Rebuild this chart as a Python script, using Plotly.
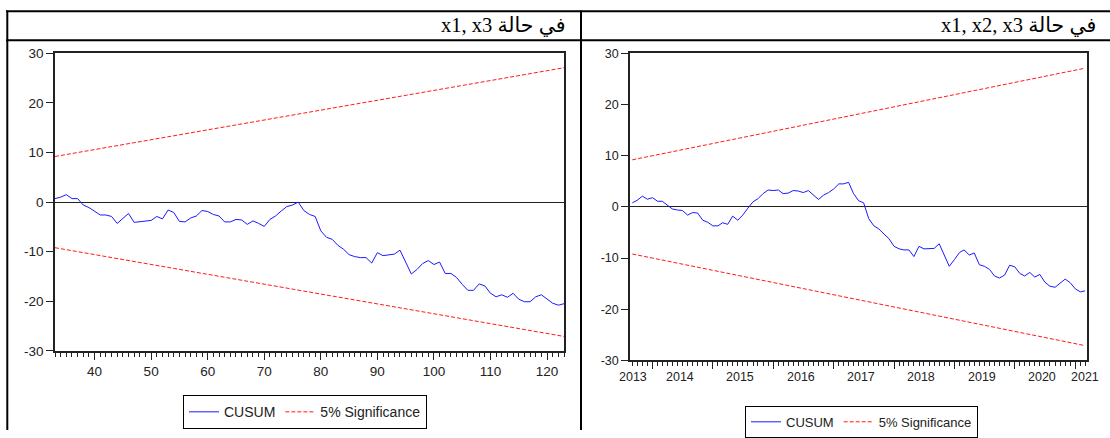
import plotly.graph_objects as go
import pandas as pd

W, H = 1110, 438

# ---------------- data ----------------
left_obs = list(range(33, 124))
left_cusum = [
    0.7, 1.0, 1.5, 0.7, 0.7, -0.6, -1.1, -1.9, -2.6, -2.6,
    -2.9, -4.3, -3.3, -2.3, -4.1, -4.0, -3.9, -3.7, -2.9, -3.4,
    -1.6, -2.1, -3.9, -4.0, -3.2, -2.8, -1.7, -1.9, -2.5, -2.8,
    -4.0, -4.0, -3.5, -3.6, -4.5, -3.8, -4.3, -4.9, -3.5, -2.8,
    -1.8, -0.9, -0.6, 0.0, -1.7, -2.5, -2.9, -5.8, -7.1, -7.5,
    -8.7, -9.5, -10.6, -11.0, -11.2, -11.2, -12.3, -10.2, -10.8, -10.6,
    -10.5, -9.7, -12.1, -14.5, -13.6, -12.4, -11.8, -12.6, -12.1, -14.4,
    -14.4, -15.2, -16.6, -17.8, -17.8, -16.5, -16.9, -18.4, -19.1, -18.7,
    -19.2, -18.4, -19.6, -20.1, -20.1, -19.1, -18.7, -19.5, -20.4, -20.8,
    -20.5,
]
left_bound_x = [33, 123]
left_upper = [9.2, 27.1]
left_lower = [-9.2, -27.1]

right_dates = pd.date_range("2013-09-01", "2021-03-01", freq="MS")
right_cusum = [
    0.8, 1.3, 2.1, 1.5, 1.8, 1.1, 1.1, 0.4, -0.4, -0.6,
    -0.7, -1.6, -1.1, -1.2, -2.6, -3.0, -3.7, -3.7, -3.1, -3.4,
    -1.8, -2.6, -1.6, -0.25, 1.0, 1.6, 2.6, 3.3, 3.2, 3.3,
    2.6, 2.7, 3.2, 3.1, 2.8, 3.2, 2.4, 1.45, 2.3, 2.8,
    3.5, 4.5, 4.5, 4.8, 2.6, 1.2, 0.8, -2.3, -3.7, -4.3,
    -5.3, -6.2, -7.7, -8.2, -8.4, -8.4, -9.7, -7.7, -8.2, -8.1,
    -8.1, -7.2, -9.4, -11.6, -10.3, -8.9, -8.4, -9.4, -9.0, -11.3,
    -11.6, -12.2, -13.5, -13.9, -13.3, -11.4, -11.7, -13.0, -13.5, -12.8,
    -13.7, -13.2, -14.7, -15.5, -15.7, -14.9, -14.1, -14.8, -16.0, -16.6,
    -16.4,
]
right_bound_x = ["2013-09-01", "2021-03-01"]
right_upper = [9.2, 27.1]
right_lower = [-9.2, -27.1]

left_xticks = [40, 50, 60, 70, 80, 90, 100, 110, 120]
y_ticks = [-30, -20, -10, 0, 10, 20, 30]
y_ticktext = ["-30", "-20", "-10", "0", "10", "20", "30"]
year_ticks = ["2014-01-01", "2015-01-01", "2016-01-01", "2017-01-01",
              "2018-01-01", "2019-01-01", "2020-01-01", "2021-01-01"]
year_labels = ["2013", "2014", "2015", "2016", "2017", "2018", "2019", "2020", "2021"]
year_label_pos = ["2013-09-06", "2014-06-15", "2015-06-15", "2016-06-15", "2017-06-15",
                  "2018-06-15", "2019-06-15", "2020-06-15", "2021-03-01"]

headers = ["x1, x3 في حالة", "x1, x2, x3 في حالة"]
series_names = ["CUSUM", "5% Significance"]

BLUE = "#1a1aff"
RED = "#ff1a1a"
INK = "#222222"
SANS = "Liberation Sans, Arial, sans-serif"
SERIF = "Liberation Serif, Times New Roman, DejaVu Sans, serif"

fig = go.Figure()

# left chart
fig.add_trace(go.Scatter(x=left_obs, y=left_cusum, mode="lines", name=series_names[0],
                         line=dict(color=BLUE, width=1), xaxis="x", yaxis="y", legend="legend"))
fig.add_trace(go.Scatter(x=left_bound_x, y=left_upper, mode="lines", name=series_names[1],
                         line=dict(color=RED, width=1, dash="4px,2px"), xaxis="x", yaxis="y", legend="legend"))
fig.add_trace(go.Scatter(x=left_bound_x, y=left_lower, mode="lines", name=series_names[1], showlegend=False,
                         line=dict(color=RED, width=1, dash="4px,2px"), xaxis="x", yaxis="y", legend="legend"))

# right chart
fig.add_trace(go.Scatter(x=right_dates, y=right_cusum, mode="lines", name=series_names[0],
                         line=dict(color=BLUE, width=1), xaxis="x2", yaxis="y2", legend="legend2"))
fig.add_trace(go.Scatter(x=right_bound_x, y=right_upper, mode="lines", name=series_names[1],
                         line=dict(color=RED, width=1, dash="4px,2px"), xaxis="x2", yaxis="y2", legend="legend2"))
fig.add_trace(go.Scatter(x=right_bound_x, y=right_lower, mode="lines", name=series_names[1], showlegend=False,
                         line=dict(color=RED, width=1, dash="4px,2px"), xaxis="x2", yaxis="y2", legend="legend2"))

def px_x(p):
    return p / W

def px_y(p):
    return 1 - p / H

axis_common = dict(showline=True, linecolor=INK, linewidth=1.5, mirror=True, showgrid=False,
                   ticks="outside", tickcolor=INK, tickwidth=1, ticklen=7)

fig.update_layout(
    width=W, height=H,
    margin=dict(l=0, r=0, t=0, b=0),
    paper_bgcolor="white", plot_bgcolor="white",
    xaxis=dict(domain=[px_x(55), px_x(564)], anchor="y", range=[33, 123], tickvals=left_xticks,
               zeroline=False, tickfont=dict(family=SANS, size=13.5, color=INK),
               minor=dict(dtick=1, tick0=33, ticks="outside", ticklen=4, tickcolor=INK),
               **axis_common),
    yaxis=dict(domain=[px_y(356), px_y(48)], anchor="x", range=[-30, 30], tickvals=y_ticks,
               ticktext=y_ticktext,
               zeroline=True, zerolinecolor=INK, zerolinewidth=1,
               tickfont=dict(family=SANS, size=13.5, color=INK), **axis_common),
    xaxis2=dict(domain=[px_x(630), px_x(1087)], anchor="y2", type="date",
                range=["2013-08-18", "2021-03-13"], tickvals=year_ticks, showticklabels=False,
                zeroline=False,
                minor=dict(dtick="M1", tick0="2013-09-01", ticks="outside", ticklen=4, tickcolor=INK),
                **axis_common),
    yaxis2=dict(domain=[px_y(366), px_y(48)], anchor="x2", range=[-30, 30], tickvals=y_ticks,
                ticktext=y_ticktext,
                zeroline=True, zerolinecolor=INK, zerolinewidth=1,
                tickfont=dict(family=SANS, size=12.5, color=INK), **axis_common),
    legend=dict(x=px_x(183), y=px_y(402), xanchor="left", yanchor="top", orientation="h",
                bgcolor="white", bordercolor="#000", borderwidth=1,
                font=dict(family=SANS, size=14, color=INK), tracegroupgap=0),
    legend2=dict(x=px_x(745), y=px_y(413), xanchor="left", yanchor="top", orientation="h",
                 bgcolor="white", bordercolor="#000", borderwidth=1,
                 font=dict(family=SANS, size=13, color=INK), tracegroupgap=0),
    showlegend=True,
)

# year labels for the date axis
for lab, pos in zip(year_labels, year_label_pos):
    fig.add_annotation(x=pos, y=px_y(383), xref="x2", yref="paper", text=lab, showarrow=False,
                       xanchor="center", yanchor="middle",
                       font=dict(family=SANS, size=12.5, color=INK))

# header texts of the table cells
fig.add_annotation(x=px_x(568), y=px_y(19), xref="paper", yref="paper", text=headers[0],
                   showarrow=False, xanchor="right", yanchor="middle",
                   font=dict(family=SERIF, size=20.5, color="#000"))
fig.add_annotation(x=px_x(1098), y=px_y(19), xref="paper", yref="paper", text=headers[1],
                   showarrow=False, xanchor="right", yanchor="middle",
                   font=dict(family=SERIF, size=20.5, color="#000"))

# table grid lines
line = dict(color="#000", width=2)
fig.add_shape(type="line", xref="paper", yref="paper", x0=px_x(6), x1=1, y0=px_y(4.3), y1=px_y(4.3), line=line)
fig.add_shape(type="line", xref="paper", yref="paper", x0=px_x(6), x1=1, y0=px_y(34.3), y1=px_y(34.3), line=line)
fig.add_shape(type="line", xref="paper", yref="paper", x0=px_x(7.3), x1=px_x(7.3), y0=px_y(3.5), y1=0, line=line)
fig.add_shape(type="line", xref="paper", yref="paper", x0=px_x(581), x1=px_x(581), y0=px_y(3.5), y1=0, line=line)

post = ("document.body.style.margin='0';document.body.style.padding='0';"
        "var d=document.getElementById('{plot_id}');"
        "d.style.position='absolute';d.style.left='0px';d.style.top='0px';")
fig.write_html("out.html", post_script=post, config={"displayModeBar": False})
